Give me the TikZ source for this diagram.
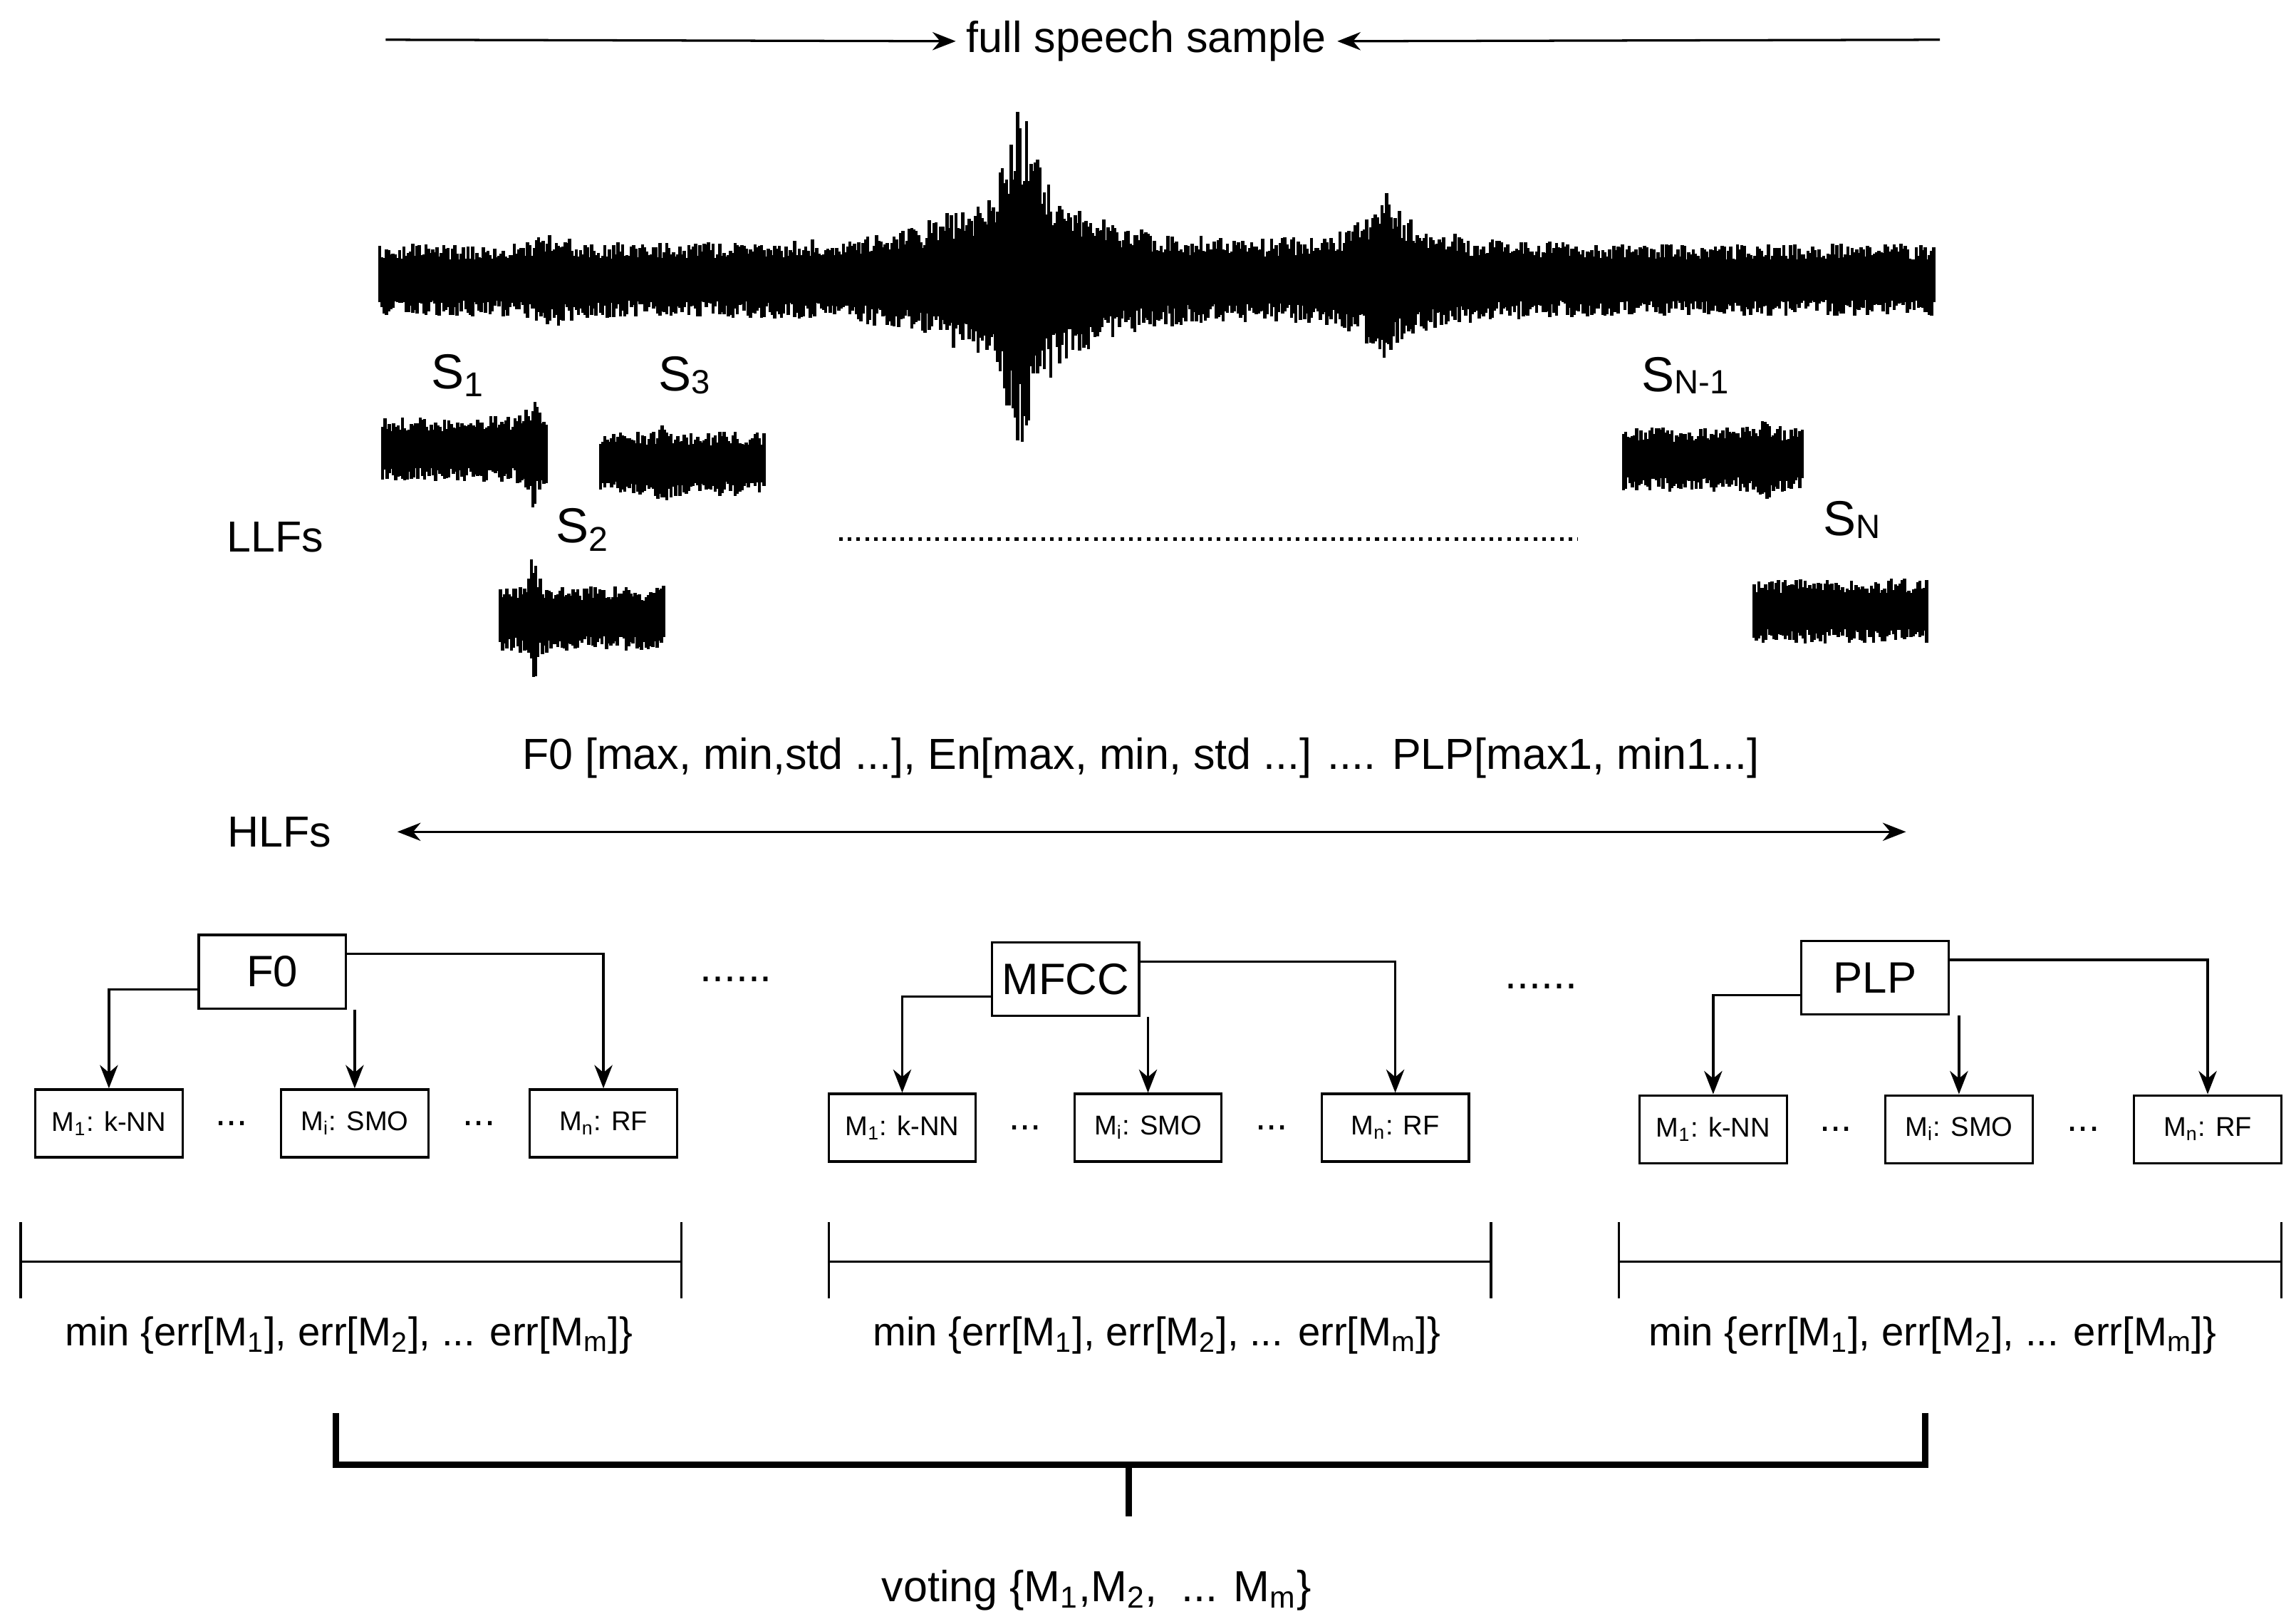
\documentclass[tikz,border=0pt]{standalone}
\usepackage{fontspec}
\setmainfont{Liberation Sans}
\usetikzlibrary{arrows.meta,calc}
\newcommand{\mywave}[5]{% x0 x1 center amp extra-expression
  \pgfmathsetmacro\xsec{#1+1.5}%
  \foreach \x in {#1,\xsec,...,#2}{%
    \pgfmathsetmacro\am{#4+#5}%
    \pgfmathsetmacro\ya{#3-\am*(0.55+0.45*rnd)}%
    \pgfmathsetmacro\yb{#3+\am*(0.55+0.45*rnd)}%
    \draw[wv] (\x,\ya) -- (\x,\yb);}}
\newcommand{\sbs}[1]{\textsubscript{#1}}
\begin{document}
\begin{tikzpicture}[x=0.02cm,y=-0.02cm,
  txt/.style={font=\fontsize{16.8}{19}\selectfont,inner sep=0},
  sm/.style={font=\fontsize{10.5}{12}\selectfont},
  box/.style={draw,line width=0.9pt,minimum width=2cm,minimum height=0.92cm,sm},
  hbox/.style={draw,line width=0.9pt,minimum width=2cm,minimum height=1cm,font=\fontsize{17}{20}\selectfont},
  con/.style={line width=0.9pt,-{Stealth[length=9pt,width=7pt]}},
  wv/.style={line width=0.045cm},
  ln/.style={line width=0.9pt}]
\useasboundingbox (0,0) rectangle (1560,1103);
\pgfmathsetseed{7}
% top arrows
\node[txt] (title) at (779,28) {full speech sample};
\coordinate (tl) at (262,27); \coordinate (tr) at (1318,27);
\draw[con] (tl) -- ([xshift=-4pt]title.west);
\draw[con] (tr) -- ([xshift=4pt]title.east);
% main waveform
\mywave{258}{1314}{190}{24}{62/(1+((\x-693)/10)^2)+30/(1+((\x-705)/45)^2)+10/(1+((\x-650)/30)^2)+28/(1+((\x-940)/10)^2)+10/(1+((\x-950)/40)^2)+10/(1+((\x-375)/10)^2)}
% segments
\mywave{260}{372}{305}{22}{22/(1+((\x-363)/3)^2)}
\mywave{408}{520}{315}{22}{6/(1+((\x-450)/3)^2)}
\mywave{340}{452}{420}{22}{25/(1+((\x-362)/3)^2)}
\mywave{1103}{1225}{312}{22}{6/(1+((\x-1200)/4)^2)}
\mywave{1192}{1310}{415}{22}{0}
\node[txt,font=\fontsize{19}{22}\selectfont] (s1) at (311,255) {S\sbs{1}};
\node[txt,font=\fontsize{19}{22}\selectfont] (s3) at (465,255) {S\raisebox{-1pt}{\fontsize{13}{14}\selectfont 3}};
\node[txt,font=\fontsize{19}{22}\selectfont] (s2) at (396,360) {S\sbs{2}};
\node[txt,font=\fontsize{19}{22}\selectfont] (sn1) at (1145,255) {S\raisebox{-1pt}{\fontsize{13}{14}\selectfont N-1}};
\node[txt,font=\fontsize{19}{22}\selectfont] (sn) at (1258,353) {S\raisebox{-1pt}{\fontsize{13}{14}\selectfont N}};
\node[txt] (llf) at (187,365) {LLFs};
\coordinate (d1) at (570,366); \coordinate (d2) at (1072,366);
\draw[line width=1.4pt,dotted] (d1) -- (d2);
\node[txt] (feat) at (775,515) {F0 [max, min,std ...], En[max, min, std ...] .... PLP[max1, min1...]};
\node[txt] (hlf) at (190,565) {HLFs};
\coordinate (h1) at (270,565); \coordinate (h2) at (1295,565);
\draw[line width=0.9pt,{Stealth[length=9pt,width=7pt]}-{Stealth[length=9pt,width=7pt]}] (h1) -- (h2);
% groups
\foreach \g/\hx/\hy/\lab/\ax/\bx/\cx/\my in {1/185/660/F0/74/241/410/763, 2/724/665/MFCC/613/780/948/766, 3/1274/664/PLP/1164/1331/1500/767}{
  \node[hbox] (h\g) at (\hx,\hy) {\lab};
  \node[box] (a\g) at (\ax,\my) {M\sbs{1}: k-NN};
  \node[box] (b\g) at (\bx,\my) {M\sbs{i}: SMO};
  \node[box] (c\g) at (\cx,\my) {M\sbs{n}: RF};
  \node[font=\fontsize{15}{16}\selectfont] at ($(a\g.east)!0.5!(b\g.west)$) {...};
  \node[font=\fontsize{15}{16}\selectfont] at ($(b\g.east)!0.5!(c\g.west)$) {...};
  \draw[con] ([yshift=-0.24cm]h\g.west) -| (a\g.north);
  \draw[con] (h\g.south -| b\g.north) -- (b\g.north);
  \draw[con] ([yshift=0.24cm]h\g.east) -| (c\g.north);
}
\node[txt] at (500,665) {......};
\node[txt] at (1047,670) {......};
% brackets
\foreach \g/\l/\r/\m in {1/14/463/237,2/563/1013/786,3/1100/1550/1313}{
  \coordinate (bl\g) at (\l,857); \coordinate (br\g) at (\r,857);
  \draw[ln] (bl\g) -- (br\g);
  \draw[ln] (\l,830) -- (\l,882); \draw[ln] (\r,830) -- (\r,882);
  \node[txt,font=\fontsize{15.5}{18}\selectfont] (mn\g) at (\m,907) {min \{err[M\sbs{1}], err[M\sbs{2}], ... err[M\sbs{m}]\}};
}
\coordinate (v1) at (228,960); \coordinate (v2) at (1308,960);
\coordinate (vs) at (767,1030);
\draw[line width=2.5pt] (v1) |- (767,995) -| (v2);
\draw[line width=2.5pt] (767,995) -- (vs);
\node[txt] (vote) at (745,1080) {voting \{M\sbs{1},M\sbs{2},\ \ ... M\sbs{m}\}};
\end{tikzpicture}
\end{document}
